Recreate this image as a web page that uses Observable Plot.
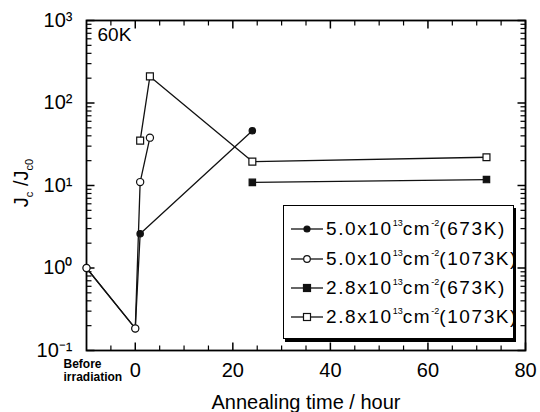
<!DOCTYPE html>
<html>
<head>
<meta charset="utf-8">
<script src="https://cdn.jsdelivr.net/npm/d3@7"></script>
<script src="https://cdn.jsdelivr.net/npm/@observablehq/plot@0.6"></script>
<style>
  body { margin: 0; background: #fff; }
  #chart { position: relative; width: 540px; height: 412px; font-family: "Liberation Sans", Arial, sans-serif; color: #000; }
  #ytitle { position: absolute; left: 22px; top: 183px; transform: translate(-50%, -50%) rotate(-90deg); font-size: 20px; white-space: nowrap; }
  #ytitle sub { font-size: 11px; }
  #legend { position: absolute; left: 283px; top: 205px; width: 229px; height: 132px; border: 1.5px solid #000; box-shadow: 2px 3px 0 #000; background: #fff; overflow: visible; }
  .entry { position: absolute; left: 0; height: 24px; display: flex; align-items: center; white-space: nowrap; }
  .entry svg { margin-left: 5px; }
  .entry span { margin-left: 3px; font-size: 19px; letter-spacing: 1.6px; }
  .entry sup { font-size: 9px; letter-spacing: 0; vertical-align: 9px; margin: 0; }
</style>
</head>
<body>
<div id="chart"></div>
<script>
// Jc/Jc0 at 60 K versus annealing time; x = -10 marks the "Before irradiation" state
const hoursA = [-10, 0, 1, 24];          // 5.0x10^13 cm^-2, annealed at 673 K
const jcA = [1.0, 0.185, 2.6, 46];
const hoursB = [-10, 0, 1, 3];           // 5.0x10^13 cm^-2, annealed at 1073 K
const jcB = [1.0, 0.185, 11, 38];
const hoursC = [24, 72];                 // 2.8x10^13 cm^-2, annealed at 673 K
const jcC = [10.9, 11.8];
const hoursD = [1, 3, 24, 72];           // 2.8x10^13 cm^-2, annealed at 1073 K
const jcD = [35, 210, 19.5, 22];

const seriesNames = ["A", "B", "C", "D"];
const seriesFluence = ["5.0x10", "5.0x10", "2.8x10", "2.8x10"];
const seriesTemp = ["(673K)", "(1073K)", "(673K)", "(1073K)"];
const seriesSymbol = ["circle", "circle", "square", "square"];
const seriesFilled = [true, false, true, false];

const xMajorTicks = [0, 20, 40, 60, 80];
const xMinorTicks = [-5, 5, 10, 15, 25, 30, 35, 45, 50, 55, 65, 70, 75];
const yMajorTicks = [0.1, 1, 10, 100, 1000];
const yTickLabels = ["10\u207B\u00B9", "10\u2070", "10\u00B9", "10\u00B2", "10\u00B3"];
const yMinorTicks = yMajorTicks.slice(0, -1).flatMap(d => d3.range(2, 10).map(k => d * k));

const hours = [hoursA, hoursB, hoursC, hoursD];
const jcs = [jcA, jcB, jcC, jcD];
const rows = seriesNames.flatMap((s, i) => hours[i].map((h, j) => ({series: s, hours: h, jc: jcs[i][j], idx: i})));

const ink = "#111";

const dotsFor = (i, r) => Plot.dot(rows.filter(d => d.idx === i), {
  x: "hours", y: "jc", symbol: seriesSymbol[i], r,
  fill: seriesFilled[i] ? ink : "#fff", stroke: ink, strokeWidth: 1.2
});

// tick symbols: a short stroke from the frame edge toward the plot interior
const tickSymbol = (dx, dy) => ({draw(ctx) { ctx.moveTo(0, 0); ctx.lineTo(dx, dy); }});
const edgeTicks = (t, len, sw, side) => {
  const vertical = side === "top" || side === "bottom";
  const dir = {top: [0, len], bottom: [0, -len], left: [len, 0], right: [-len, 0]}[side];
  return Plot.dot(t, {
    ...(vertical ? {x: d => d} : {y: d => d}),
    frameAnchor: side, symbol: tickSymbol(...dir), fill: "none", stroke: "#000", strokeWidth: sw
  });
};

const plot = Plot.plot({
  width: 540, height: 412,
  marginLeft: 86, marginRight: 15, marginTop: 20, marginBottom: 62,
  x: {domain: [-10, 80]},
  y: {type: "log", domain: [0.1, 1000]},
  style: {fontFamily: "Liberation Sans, Arial, sans-serif", fontSize: "20px", color: "#000", background: "transparent"},
  marks: [
    ...["top", "bottom"].flatMap(s => [edgeTicks(xMajorTicks, 8, 1.5, s), edgeTicks(xMinorTicks, 5, 1.2, s)]),
    ...["left", "right"].flatMap(s => [edgeTicks(yMajorTicks, 8, 1.5, s), edgeTicks(yMinorTicks, 5, 1.2, s)]),
    // tick labels
    Plot.axisX(xMajorTicks, {anchor: "bottom", tickSize: 0, tickPadding: 12, label: null}),
    Plot.axisY(yMajorTicks, {anchor: "left", tickSize: 0, tickPadding: 14, label: null,
      tickFormat: d => yTickLabels[yMajorTicks.findIndex(t => Math.abs(t - d) < 1e-9 * t)]}),
    Plot.text(["Before\nirradiation"], {x: -10, frameAnchor: "bottom", text: d => d, textAnchor: "start",
      lineAnchor: "top", dx: -23, dy: 8, fontSize: 12, fontWeight: "bold", lineHeight: 1.1}),
    Plot.text(["Annealing time / hour"], {frameAnchor: "bottom", text: d => d, lineAnchor: "middle", dy: 52, fontSize: 20}),
    Plot.text(["60K"], {frameAnchor: "top-left", text: d => d, textAnchor: "start", lineAnchor: "middle", dx: 11, dy: 14, fontSize: 19}),
    Plot.frame({stroke: "#000", strokeWidth: 1.8}),
    // data
    Plot.line(rows, {x: "hours", y: "jc", z: "series", stroke: ink, strokeWidth: 1.3}),
    dotsFor(0, 3.2),
    dotsFor(2, 3.6),
    dotsFor(3, 3.9),
    dotsFor(1, 3.6)
  ]
});

const chart = document.getElementById("chart");
chart.appendChild(plot);

const ytitle = document.createElement("div");
ytitle.id = "ytitle";
ytitle.innerHTML = "J<sub>c</sub> /J<sub>c0</sub>";
chart.appendChild(ytitle);

const legend = document.createElement("div");
legend.id = "legend";
const entryTops = [11, 41, 70, 99];
seriesNames.forEach((s, i) => {
  const e = document.createElement("div");
  e.className = "entry";
  e.style.top = entryTops[i] + "px";
  const filled = seriesFilled[i];
  const marker = seriesSymbol[i] === "circle"
    ? `<circle cx="18" cy="12" r="${filled ? 3 : 3.3}" fill="${filled ? ink : "#fff"}" stroke="${ink}" stroke-width="1.2"/>`
    : `<rect x="14.5" y="8.5" width="7" height="7" fill="${filled ? ink : "#fff"}" stroke="${ink}" stroke-width="1.2"/>`;
  e.innerHTML = `<svg width="34" height="24"><line x1="2" y1="12" x2="34" y2="12" stroke="${ink}" stroke-width="1.3"/>${marker}</svg>` +
    `<span>${seriesFluence[i]}<sup>13</sup>cm<sup>-2</sup>${seriesTemp[i]}</span>`;
  legend.appendChild(e);
});
chart.appendChild(legend);
</script>
</body>
</html>
